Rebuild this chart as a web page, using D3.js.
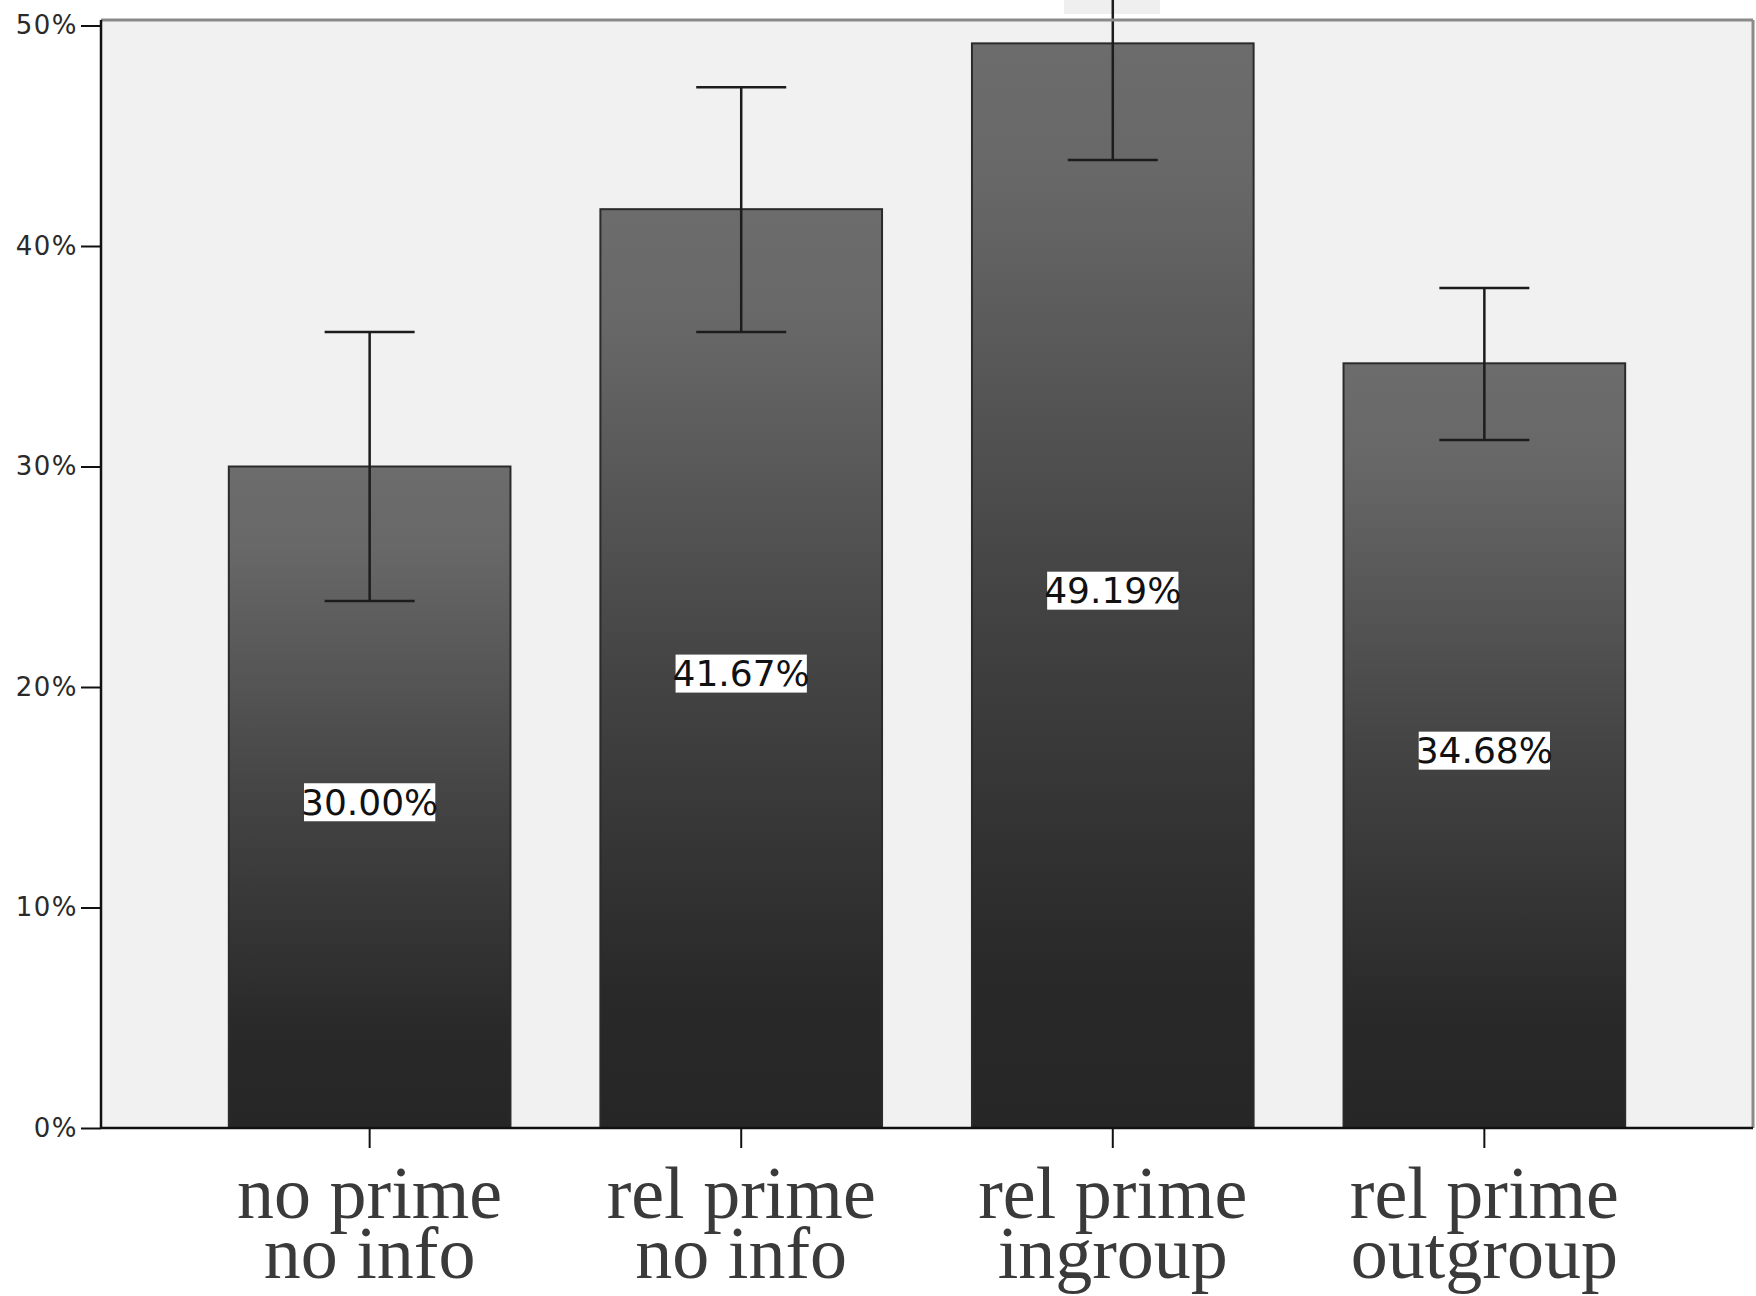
<!DOCTYPE html>
<html><head><meta charset="utf-8">
<script src="https://cdn.jsdelivr.net/npm/d3@7"></script>
<style>html,body{margin:0;padding:0;background:#fff;overflow:hidden}</style>
</head><body>
<svg id="chart" width="1756" height="1296"></svg>
<script>
const categories = [["no prime","no info"],["rel prime","no info"],["rel prime","ingroup"],["rel prime","outgroup"]];
const values = [30.00, 41.67, 49.19, 34.68];
const errLow = [23.9, 36.1, 43.9, 31.2];
const errHigh = [36.1, 47.2, 54.6, 38.1];
const yTicks = [0, 10, 20, 30, 40, 50];

(function(){
const svg = d3.select("#chart");
const pLeft = 101, pRight = 1753, pTop = 20, pBottom = 1128;
const x = d3.scaleBand().domain(d3.range(categories.length)).range([pLeft, pRight]).paddingInner(0.242).paddingOuter(0.344);
const y = d3.scaleLinear().domain([0, 50]).range([pBottom, 25.5]);

const defs = svg.append("defs");
const g = defs.append("linearGradient").attr("id","barGrad").attr("x1",0).attr("y1",0).attr("x2",0).attr("y2",1);
[[0,"#6c6c6c"],[0.12,"#686868"],[0.5,"#444"],[0.85,"#292929"],[1,"#262626"]].forEach(([o,c])=>g.append("stop").attr("offset",o).attr("stop-color",c));

svg.append("rect").attr("x",pLeft).attr("y",pTop).attr("width",pRight-pLeft).attr("height",pBottom-pTop).attr("fill","#f1f1f1");
svg.append("rect").attr("x",1064).attr("y",0).attr("width",96).attr("height",14).attr("fill","#efefef");

svg.selectAll("rect.bar").data(values).join("rect").attr("class","bar")
  .attr("x",(d,i)=>x(i)).attr("y",d=>y(d)).attr("width",x.bandwidth()).attr("height",d=>y(0)-y(d))
  .attr("fill","url(#barGrad)").attr("stroke","#2b2b2b").attr("stroke-width",2);

const cap = 45;
const eb = svg.append("g").attr("stroke","#1c1c1c").attr("stroke-width",2.5);
values.forEach((v,i)=>{
  const cx = x(i)+x.bandwidth()/2;
  eb.append("line").attr("x1",cx).attr("x2",cx).attr("y1",y(errLow[i])).attr("y2",y(errHigh[i]));
  eb.append("line").attr("x1",cx-cap).attr("x2",cx+cap).attr("y1",y(errLow[i])).attr("y2",y(errLow[i]));
  eb.append("line").attr("x1",cx-cap).attr("x2",cx+cap).attr("y1",y(errHigh[i])).attr("y2",y(errHigh[i]));
});

svg.append("line").attr("x1",pLeft).attr("x2",pRight).attr("y1",pTop).attr("y2",pTop).attr("stroke","#8a8a8a").attr("stroke-width",3);
svg.append("line").attr("x1",pRight).attr("x2",pRight).attr("y1",pTop).attr("y2",pBottom).attr("stroke","#8a8a8a").attr("stroke-width",3);

const yAxis = svg.append("g").attr("transform",`translate(${pLeft},0)`)
  .call(d3.axisLeft(y).tickValues(yTicks).tickFormat(d=>d+"%").tickSize(20).tickPadding(3));
yAxis.select(".domain").attr("stroke","#111").attr("stroke-width",2.5).attr("d",`M0,${pTop}V${pBottom}`);
yAxis.selectAll(".tick line").attr("stroke","#111").attr("stroke-width",2);
yAxis.selectAll("text").attr("font-family","DejaVu Sans").attr("font-size",26).attr("fill","#2a2a2a").attr("letter-spacing",1.5);

const xAxis = svg.append("g").attr("transform",`translate(0,${pBottom})`)
  .call(d3.axisBottom(x).tickSize(20).tickFormat(""));
xAxis.select(".domain").attr("stroke","#111").attr("stroke-width",2.5).attr("d",`M${pLeft},0H${pRight}`);
xAxis.selectAll(".tick line").attr("stroke","#111").attr("stroke-width",2);

const lab = svg.append("g");
categories.forEach((c,i)=>{
  c.forEach((line,j)=>lab.append("text").attr("x",x(i)+x.bandwidth()/2).attr("y",1218+j*60).attr("text-anchor","middle")
    .attr("font-family","Liberation Serif").attr("font-size",74).attr("fill","#3a3a3a").text(line));
});

values.forEach((v,i)=>{
  const cx = x(i)+x.bandwidth()/2, cy = y(v/2)+5;
  const gg = svg.append("g");
  const bg = gg.append("rect").attr("fill","#fff");
  const t = gg.append("text").attr("x",cx).attr("y",cy).attr("text-anchor","middle").attr("dominant-baseline","central")
    .attr("font-family","DejaVu Sans").attr("font-size",36).attr("fill","#111").text(v.toFixed(2)+"%");
  const b = t.node().getBBox();
  bg.attr("x",b.x+3).attr("y",cy-19).attr("width",b.width-6).attr("height",38);
});
})();
</script>
</body></html>
